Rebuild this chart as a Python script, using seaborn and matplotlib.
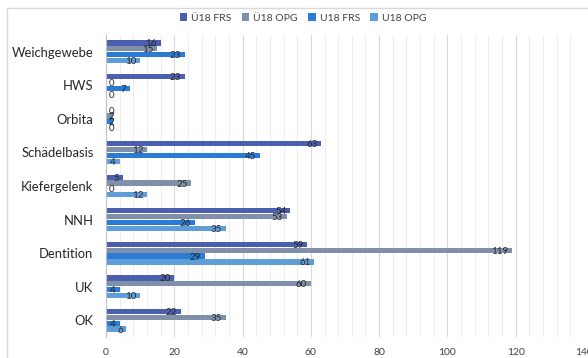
import matplotlib
matplotlib.use("Agg")
import matplotlib.pyplot as plt
import seaborn as sns
import pandas as pd
from matplotlib.lines import Line2D
from matplotlib.patches import Patch

categories = ["Weichgewebe", "HWS", "Orbita", "Schädelbasis", "Kiefergelenk",
              "NNH", "Dentition", "UK", "OK"]
series_names = ["Ü18 FRS", "Ü18 OPG", "U18 FRS", "U18 OPG"]
ue18_frs = [16, 23, 0, 63, 5, 54, 59, 20, 22]
ue18_opg = [15, 0, 2, 12, 25, 53, 119, 60, 35]
u18_frs = [23, 7, 2, 45, 0, 26, 29, 4, 4]
u18_opg = [10, 0, 0, 4, 12, 35, 61, 10, 6]
x_ticks = [0, 20, 40, 60, 80, 100, 120, 140]

colors = ["#4a60ae", "#8090ab", "#2a7bd6", "#5e9dd8"]

series_values = [ue18_frs, ue18_opg, u18_frs, u18_opg]
rows = []
for name, vals in zip(series_names, series_values):
    for cat, v in zip(categories, vals):
        rows.append({"Kategorie": cat, "Serie": name, "Wert": v})
df = pd.DataFrame(rows)

sns.set_theme(style="white")
plt.rcParams["font.family"] = ["Lato", "DejaVu Sans"]

fig = plt.figure(figsize=(5.88, 3.58), dpi=100)
ax = fig.add_axes([106 / 588, 1 - 337 / 358, (584 - 106) / 588, (337 - 35) / 358])

sns.barplot(data=df, y="Kategorie", x="Wert", hue="Serie", order=categories,
            hue_order=series_names, palette=colors, orient="h", width=0.7,
            gap=0.1, ax=ax, legend=False, saturation=1, errorbar=None, linewidth=0)

ax.set_xlim(0, 140)
ax.set_ylim(len(categories) - 0.5, -0.5)
ax.set_xticks(x_ticks)
ax.set_xticklabels([str(t) for t in x_ticks], fontsize=7.5, color="#404040")
ax.grid(False)
for v in range(4, 141, 4):
    col = "#d9d9d9" if v % 20 == 0 else "#eeeeee"
    ax.axvline(v, color=col, lw=0.8, zorder=0)
ax.set_axisbelow(True)

ax.set_yticks(range(len(categories)))
ax.set_yticklabels(categories, fontsize=9.4, color="#262626")
ax.set_yticks([i - 0.5 for i in range(len(categories) + 1)], minor=True)
ax.tick_params(axis="y", which="major", length=0, pad=9)
ax.tick_params(axis="y", which="minor", length=4, color="#bfbfbf", width=0.8, direction="out")
ax.tick_params(axis="x", which="both", length=0, pad=8)
ax.set_xlabel("")
ax.set_ylabel("")
for s in ["top", "right", "bottom"]:
    ax.spines[s].set_visible(False)
ax.spines["left"].set_color("#bfbfbf")
ax.spines["left"].set_linewidth(0.8)

for cont in ax.containers:
    for p in cont:
        w = p.get_width()
        yc = p.get_y() + p.get_height() / 2
        ax.text(max(w - 1.1, 2.4), yc + 0.03, f"{int(round(w))}", ha="right", va="center",
                fontsize=7, color="#262626", zorder=5)

handles = [Patch(facecolor=c, edgecolor="none") for c in colors]
fig.legend(handles, series_names, loc="center", bbox_to_anchor=(303 / 588, 1 - 18 / 358),
           ncol=4, frameon=False, fontsize=7.5, handlelength=0.7, handleheight=0.7,
           handletextpad=0.4, columnspacing=1.0, labelcolor="#404040")

# chart border
fig.add_artist(Line2D([7 / 588, 7 / 588], [0, 1 - 8 / 358], transform=fig.transFigure,
                      color="#d9d9d9", lw=1))
fig.add_artist(Line2D([7 / 588, 1], [1 - 8 / 358, 1 - 8 / 358], transform=fig.transFigure,
                      color="#d9d9d9", lw=1))

fig.savefig("out.png", dpi=100)
